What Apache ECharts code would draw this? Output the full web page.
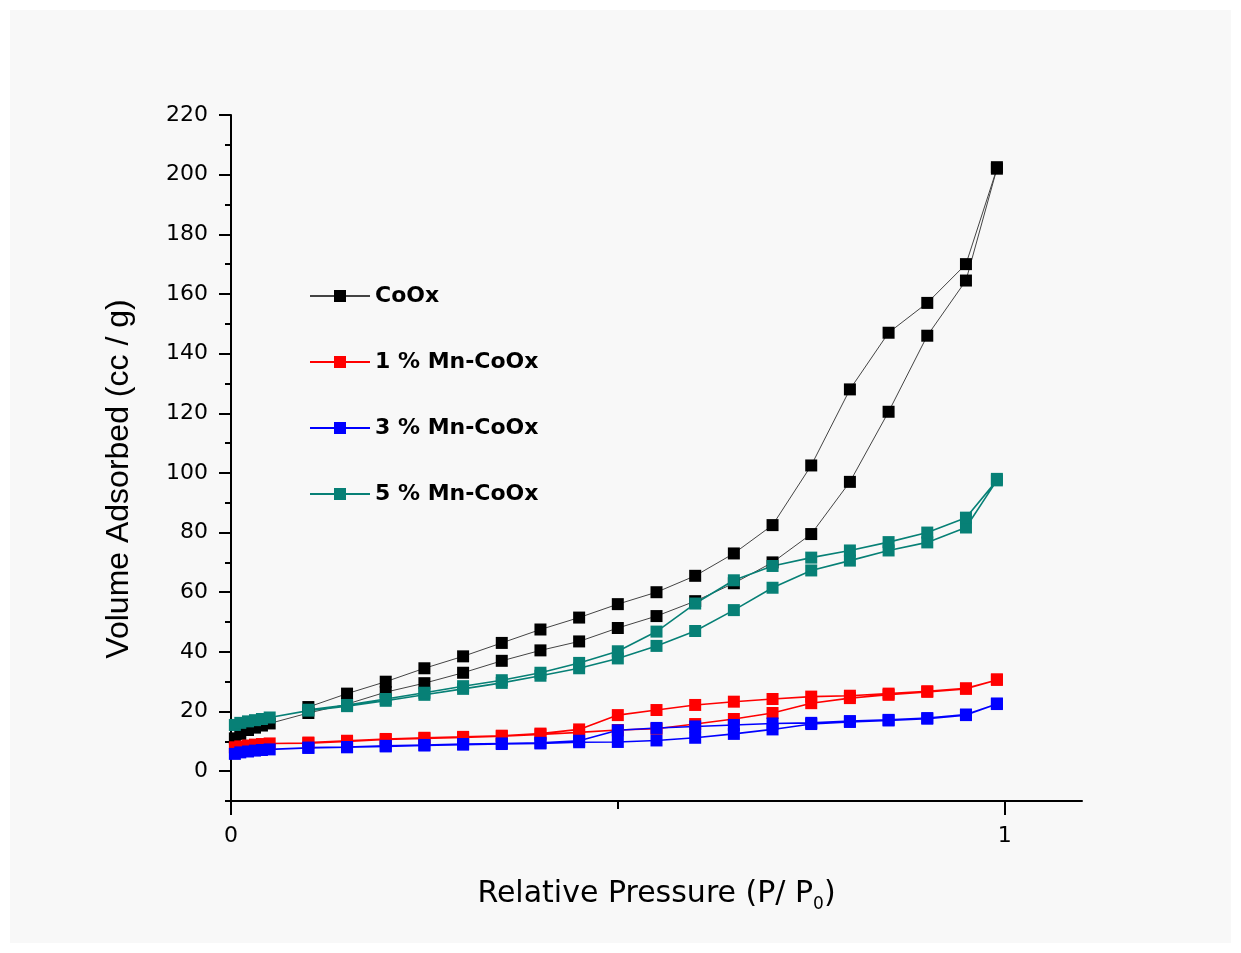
<!DOCTYPE html>
<html>
<head>
<meta charset="utf-8">
<script src="https://cdn.jsdelivr.net/npm/echarts@6/dist/echarts.min.js"></script>
<style>
  html, body { margin: 0; padding: 0; background: #ffffff; }
  #chart { width: 1241px; height: 953px; }
</style>
</head>
<body>
<div id="chart"></div>
<script>
// relative pressure points, adsorption (going up) then desorption (coming back)
const pAds = [0.005, 0.012, 0.022, 0.031, 0.04, 0.05, 0.1, 0.15, 0.2, 0.25, 0.3, 0.35, 0.4, 0.45, 0.5, 0.55, 0.6, 0.65, 0.7, 0.75, 0.8, 0.85, 0.9, 0.95, 0.99];
const pDes = [0.99, 0.95, 0.9, 0.85, 0.8, 0.75, 0.7, 0.65, 0.6, 0.55, 0.5, 0.45, 0.4, 0.35, 0.3, 0.25, 0.2, 0.15, 0.1];

const coAds = [11, 12.5, 13.8, 14.6, 15.3, 16, 19.5, 22.5, 26.5, 29.5, 33, 37, 40.5, 43.5, 48, 52, 57, 63, 70, 79.5, 97, 120.5, 146, 164.5, 202];
const coDes = [202.5, 170, 157, 147, 128, 102.5, 82.5, 73, 65.5, 60, 56, 51.5, 47.5, 43, 38.5, 34.5, 30, 26, 21.5];

const mn1Ads = [8, 8.3, 8.6, 8.9, 9.1, 9.3, 9.4, 10, 10.6, 11, 11.3, 11.7, 12.3, 13, 13.8, 14.2, 15.8, 17.5, 19.5, 22.8, 24.5, 25.6, 26.6, 27.6, 30.6];
const mn1Des = [30.8, 27.8, 26.8, 26, 25.3, 25, 24.2, 23.3, 22.2, 20.5, 18.8, 14, 12.6, 11.9, 11.5, 11.2, 10.8, 10.2, 9.6];

const mn3Ads = [5.8, 6.3, 6.6, 6.9, 7.1, 7.3, 7.8, 8, 8.3, 8.6, 8.9, 9.1, 9.3, 9.7, 9.8, 10.3, 11.2, 12.5, 14, 15.8, 16.5, 17, 17.6, 18.8, 22.5];
const mn3Des = [22.7, 19, 17.8, 17.2, 16.8, 16.2, 16, 15.5, 15, 14.5, 13.7, 10.2, 9.5, 9.3, 9.1, 8.8, 8.5, 8.1, 7.9];

const mn5Ads = [15.5, 16.2, 16.7, 17.1, 17.5, 18, 20.3, 21.8, 23.6, 25.6, 27.6, 29.6, 32, 34.5, 37.8, 42, 47, 54, 61.5, 67.3, 70.6, 74, 76.7, 81.7, 97.5];
const mn5Des = [98, 85, 80, 76.8, 74, 71.6, 68.8, 64, 56.2, 46.8, 40.2, 36.3, 33, 30.5, 28.5, 26.3, 24.2, 22.2, 20.6];

const seriesNames = ['CoOx', '1 % Mn-CoOx', '3 % Mn-CoOx', '5 % Mn-CoOx'];
const seriesColors = ['#000000', '#ff0000', '#0000ff', '#078076'];
const lineColors = ['#444444', '#ff0000', '#0000ff', '#078076'];

const yMajor = [0, 20, 40, 60, 80, 100, 120, 140, 160, 180, 200, 220];
const yMinor = [-10, 10, 30, 50, 70, 90, 110, 130, 150, 170, 190, 210];
const xMajor = [0, 1];
const xMinor = [0.5];

function loop(ads, des) {
    const pts = ads.map((v, i) => [pAds[i], v]);
    return pts.concat(des.map((v, i) => [pDes[i], v]));
}

const allData = [loop(coAds, coDes), loop(mn1Ads, mn1Des), loop(mn3Ads, mn3Des), loop(mn5Ads, mn5Des)];

const chart = echarts.init(document.getElementById('chart'));

const axisFont = 'DejaVu Sans';

const option = {
    animation: false,
    backgroundColor: '#ffffff',
    graphic: [{
        type: 'rect',
        z: -10,
        shape: { x: 10, y: 10, width: 1221, height: 933 },
        style: { fill: '#f8f8f8' }
    }],
    grid: { left: 231, right: 159, top: 115, bottom: 152 },
    legend: {
        orient: 'vertical',
        left: 309,
        top: 283,
        padding: 0,
        itemWidth: 60,
        itemHeight: 15,
        itemGap: 40,
        data: seriesNames,
        textStyle: {
            fontFamily: axisFont,
            fontWeight: 'bold',
            fontSize: 22,
            lineHeight: 26,
            color: '#000'
        }
    },
    xAxis: [{
        type: 'value',
        min: 0,
        max: 1.1,
        position: 'bottom',
        name: 'Relative Pressure (P/ P{sub|0})',
        nameLocation: 'middle',
        nameGap: 75,
        nameTextStyle: {
            fontFamily: axisFont,
            fontSize: 30,
            color: '#000',
            rich: {
                sub: { fontFamily: axisFont, fontSize: 17, verticalAlign: 'bottom', padding: [20, 0, 0, 0] }
            }
        },
        axisLine: { onZero: false, lineStyle: { color: '#000', width: 2 } },
        axisTick: { inside: false, length: 14, customValues: xMajor, lineStyle: { color: '#000', width: 2 } },
        axisLabel: { customValues: xMajor, margin: 24, fontFamily: axisFont, fontSize: 22, color: '#000' },
        splitLine: { show: false }
    }, {
        type: 'value',
        min: 0,
        max: 1.1,
        position: 'bottom',
        axisLine: { show: false, onZero: false },
        axisTick: { length: 8, customValues: xMinor, lineStyle: { color: '#000', width: 2 } },
        axisLabel: { show: false },
        splitLine: { show: false }
    }],
    yAxis: [{
        type: 'value',
        min: -10,
        max: 220,
        position: 'left',
        name: 'Volume Adsorbed (cc / g)',
        nameLocation: 'middle',
        nameGap: 96,
        nameTextStyle: {
            fontFamily: 'Liberation Sans',
            fontSize: 32,
            color: '#000',
            padding: [0, 42, 0, 0]
        },
        axisLine: { onZero: false, lineStyle: { color: '#000', width: 2 } },
        axisTick: { length: 12, customValues: yMajor, lineStyle: { color: '#000', width: 2 } },
        axisLabel: { customValues: yMajor, margin: 23, fontFamily: axisFont, fontSize: 22, color: '#000' },
        splitLine: { show: false }
    }, {
        type: 'value',
        min: -10,
        max: 220,
        position: 'left',
        axisLine: { show: false, onZero: false },
        axisTick: { length: 6, customValues: yMinor, lineStyle: { color: '#000', width: 2 } },
        axisLabel: { show: false },
        splitLine: { show: false }
    }],
    series: allData.map((d, i) => ({
        name: seriesNames[i],
        type: 'line',
        data: d,
        symbol: 'rect',
        symbolSize: 12,
        showAllSymbol: true,
        itemStyle: { color: seriesColors[i] },
        lineStyle: { color: lineColors[i], width: i === 0 ? 1 : 1.6 }
    }))
};

chart.setOption(option);
</script>
</body>
</html>
